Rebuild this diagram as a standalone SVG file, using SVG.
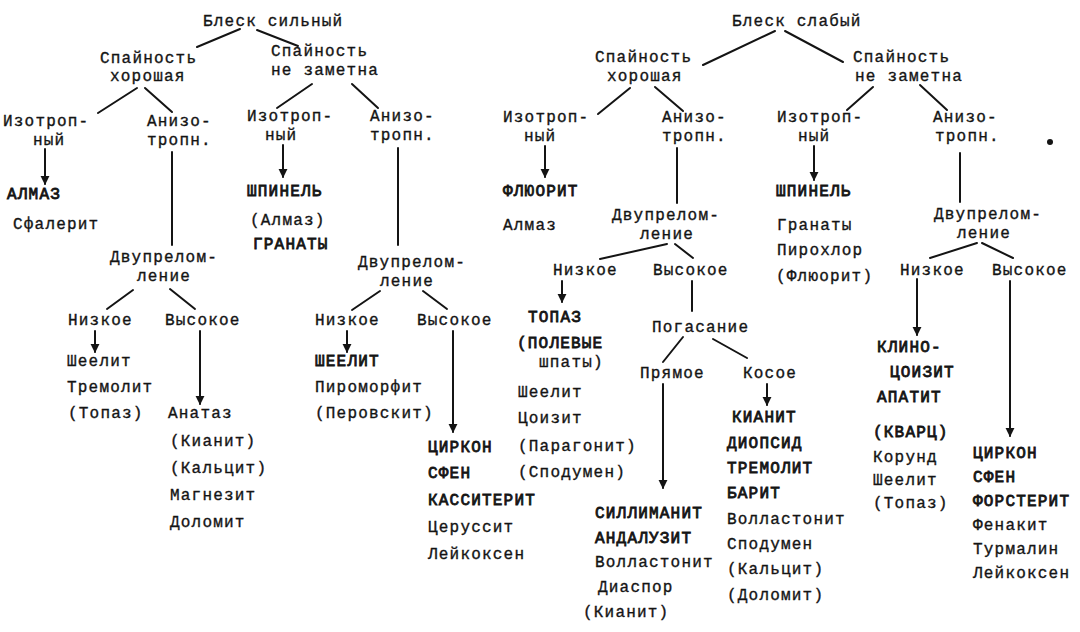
<svg xmlns="http://www.w3.org/2000/svg" width="1080" height="632" viewBox="0 0 1080 632">
<style>
text{font-family:"Liberation Mono","DejaVu Sans Mono",monospace;font-size:16px;letter-spacing:1.2px;fill:#141414;stroke:#141414;stroke-width:0.35px}
text.b{stroke-width:0.8px}
.c{stroke:#141414;stroke-width:2;fill:none;stroke-linecap:round}
.a{marker-end:url(#ah)}
</style>
<defs>
<marker id="ah" viewBox="0 0 10 10" refX="9" refY="5" markerWidth="9" markerHeight="10" markerUnits="userSpaceOnUse" orient="auto"><path d="M0,0 L10,5 L0,10 z" fill="#141414"/></marker>
</defs>
<rect width="1080" height="632" fill="#fff"/>
<g id="connectors">
<line class="c" x1="197" y1="47" x2="240" y2="29"/>
<line class="c" x1="257" y1="30" x2="298" y2="46"/>
<line class="c" x1="137" y1="88" x2="98" y2="113"/>
<line class="c" x1="145" y1="88" x2="172" y2="112"/>
<line class="c" x1="312" y1="84" x2="277" y2="108"/>
<line class="c" x1="352" y1="84" x2="378" y2="108"/>
<line class="c a" x1="45" y1="149" x2="45" y2="184"/>
<line class="c a" x1="283" y1="145" x2="283" y2="177"/>
<line class="c" x1="172" y1="152" x2="172" y2="245"/>
<line class="c" x1="398" y1="148" x2="398" y2="245"/>
<line class="c" x1="133" y1="290" x2="107" y2="309"/>
<line class="c" x1="170" y1="289" x2="195" y2="309"/>
<line class="c" x1="380" y1="291" x2="352" y2="310"/>
<line class="c" x1="423" y1="291" x2="447" y2="309"/>
<line class="c a" x1="95" y1="331" x2="95" y2="352"/>
<line class="c a" x1="347" y1="331" x2="347" y2="352"/>
<line class="c a" x1="200" y1="331" x2="200" y2="404"/>
<line class="c a" x1="453" y1="331" x2="453" y2="432"/>
<line class="c" x1="775" y1="31" x2="703" y2="65"/>
<line class="c" x1="785" y1="31" x2="843" y2="62"/>
<line class="c" x1="630" y1="88" x2="598" y2="114"/>
<line class="c" x1="655" y1="87" x2="683" y2="111"/>
<line class="c" x1="873" y1="87" x2="847" y2="110"/>
<line class="c" x1="920" y1="85" x2="947" y2="110"/>
<line class="c a" x1="545" y1="146" x2="545" y2="177"/>
<line class="c a" x1="814" y1="146" x2="814" y2="180"/>
<line class="c" x1="677" y1="148" x2="677" y2="203"/>
<line class="c" x1="960" y1="153" x2="960" y2="202"/>
<line class="c" x1="667" y1="244" x2="600" y2="259"/>
<line class="c" x1="675" y1="244" x2="693" y2="258"/>
<line class="c" x1="977" y1="243" x2="930" y2="258"/>
<line class="c" x1="982" y1="243" x2="1013" y2="258"/>
<line class="c a" x1="562" y1="281" x2="562" y2="302"/>
<line class="c" x1="692" y1="281" x2="692" y2="311"/>
<line class="c" x1="683" y1="337" x2="663" y2="362"/>
<line class="c" x1="713" y1="339" x2="747" y2="358"/>
<line class="c a" x1="663" y1="384" x2="663" y2="488"/>
<line class="c a" x1="767" y1="384" x2="767" y2="405"/>
<line class="c a" x1="917" y1="279" x2="917" y2="335"/>
<line class="c a" x1="1010" y1="281" x2="1010" y2="436"/>
</g>
<g id="n-blesk-silny"><text x="203" y="26">Блеск сильный</text></g>
<g id="n-l-spain-hor"><text x="100" y="62.5">Спайность</text><text x="110" y="81">хорошая</text></g>
<g id="n-l-spain-ne"><text x="271" y="56">Спайность</text><text x="271" y="74.5">не заметна</text></g>
<g id="n-l-iso1"><text x="3" y="126">Изотроп-</text><text x="33" y="144.5">ный</text></g>
<g id="n-l-aniso1"><text x="147" y="126">Анизо-</text><text x="147" y="144.5">тропн.</text></g>
<g id="n-l-iso2"><text x="247" y="121">Изотроп-</text><text x="265" y="139.5">ный</text></g>
<g id="n-l-aniso2"><text x="370" y="121">Анизо-</text><text x="370" y="139.5">тропн.</text></g>
<g id="n-l-min1"><text class="b" x="7" y="199">АЛМАЗ</text><text x="13" y="229">Сфалерит</text></g>
<g id="n-l-min2"><text class="b" x="247" y="196">ШПИНЕЛЬ</text><text x="250" y="225">(Алмаз)</text><text class="b" x="253" y="249">ГРАНАТЫ</text></g>
<g id="n-l-dvu1"><text x="110" y="262">Двупрелом-</text><text x="137" y="280.5">ление</text></g>
<g id="n-l-dvu2"><text x="358" y="267">Двупрелом-</text><text x="380" y="285.5">ление</text></g>
<g id="n-l-low1"><text x="68" y="325">Низкое</text></g>
<g id="n-l-high1"><text x="165" y="325">Высокое</text></g>
<g id="n-l-low2"><text x="315" y="325">Низкое</text></g>
<g id="n-l-high2"><text x="417" y="325">Высокое</text></g>
<g id="n-l-min3"><text x="67" y="366">Шеелит</text><text x="67" y="392">Тремолит</text><text x="68" y="418">(Топаз)</text></g>
<g id="n-l-min4"><text x="168" y="418">Анатаз</text><text x="170" y="446">(Кианит)</text><text x="170" y="473">(Кальцит)</text><text x="170" y="500">Магнезит</text><text x="170" y="527">Доломит</text></g>
<g id="n-l-min5"><text class="b" x="315" y="366">ШЕЕЛИТ</text><text x="315" y="392">Пироморфит</text><text x="315" y="418">(Перовскит)</text></g>
<g id="n-l-min6"><text class="b" x="428" y="452">ЦИРКОН</text><text class="b" x="428" y="478">СФЕН</text><text class="b" x="428" y="505">КАССИТЕРИТ</text><text x="428" y="532">Церуссит</text><text x="428" y="559">Лейкоксен</text></g>
<g id="n-blesk-slaby"><text x="732" y="26">Блеск слабый</text></g>
<g id="n-r-spain-hor"><text x="595" y="62">Спайность</text><text x="607" y="80.5">хорошая</text></g>
<g id="n-r-spain-ne"><text x="853" y="62">Спайность</text><text x="855" y="80.5">не заметна</text></g>
<g id="n-r-iso1"><text x="503" y="122">Изотроп-</text><text x="524" y="140.5">ный</text></g>
<g id="n-r-aniso1"><text x="662" y="122">Анизо-</text><text x="662" y="140.5">тропн.</text></g>
<g id="n-r-iso2"><text x="777" y="122">Изотроп-</text><text x="798" y="140.5">ный</text></g>
<g id="n-r-aniso2"><text x="933" y="122">Анизо-</text><text x="935" y="140.5">тропн.</text></g>
<g id="n-r-min1"><text class="b" x="503" y="196">ФЛЮОРИТ</text><text x="503" y="230">Алмаз</text></g>
<g id="n-r-min2"><text class="b" x="776" y="196">ШПИНЕЛЬ</text><text x="777" y="230">Гранаты</text><text x="777" y="255">Пирохлор</text><text x="776" y="281">(Флюорит)</text></g>
<g id="n-r-dvu1"><text x="612" y="220">Двупрелом-</text><text x="640" y="238.5">ление</text></g>
<g id="n-r-dvu2"><text x="934" y="219">Двупрелом-</text><text x="957" y="237.5">ление</text></g>
<g id="n-r-low1"><text x="553" y="275">Низкое</text></g>
<g id="n-r-high1"><text x="653" y="275">Высокое</text></g>
<g id="n-r-low2"><text x="900" y="275">Низкое</text></g>
<g id="n-r-high2"><text x="992" y="275">Высокое</text></g>
<g id="n-r-min3"><text class="b" x="528" y="322">ТОПАЗ</text><text class="b" x="517" y="348">(ПОЛЕВЫЕ</text><text x="539" y="366.5">шпаты)</text><text x="518" y="397">Шеелит</text><text x="518" y="423">Цоизит</text><text x="518" y="451">(Парагонит)</text><text x="518" y="477">(Сподумен)</text></g>
<g id="n-r-pogas"><text x="652" y="332">Погасание</text></g>
<g id="n-r-pryam"><text x="640" y="378">Прямое</text></g>
<g id="n-r-kosoe"><text x="743" y="378">Косое</text></g>
<g id="n-r-min4"><text class="b" x="595" y="518">СИЛЛИМАНИТ</text><text class="b" x="595" y="543">АНДАЛУЗИТ</text><text x="595" y="567">Волластонит</text><text x="598" y="592">Диаспор</text><text x="583" y="617">(Кианит)</text></g>
<g id="n-r-min5"><text class="b" x="732" y="422">КИАНИТ</text><text class="b" x="727" y="448">ДИОПСИД</text><text class="b" x="727" y="473">ТРЕМОЛИТ</text><text class="b" x="727" y="498">БАРИТ</text><text x="727" y="524">Волластонит</text><text x="727" y="549">Сподумен</text><text x="727" y="574">(Кальцит)</text><text x="727" y="600">(Доломит)</text></g>
<g id="n-r-min6"><text class="b" x="877" y="352">КЛИНО-</text><text class="b" x="890" y="377">ЦОИЗИТ</text><text class="b" x="877" y="402">АПАТИТ</text><text class="b" x="873" y="437">(КВАРЦ)</text><text x="873" y="462">Корунд</text><text x="873" y="485">Шеелит</text><text x="873" y="508">(Топаз)</text></g>
<g id="n-r-min7"><text class="b" x="973" y="458">ЦИРКОН</text><text class="b" x="973" y="482">СФЕН</text><text class="b" x="973" y="506">ФОРСТЕРИТ</text><text x="973" y="530">Фенакит</text><text x="973" y="554">Турмалин</text><text x="973" y="578">Лейкоксен</text></g>
<circle cx="1050" cy="142" r="3" fill="#141414"/>
</svg>
